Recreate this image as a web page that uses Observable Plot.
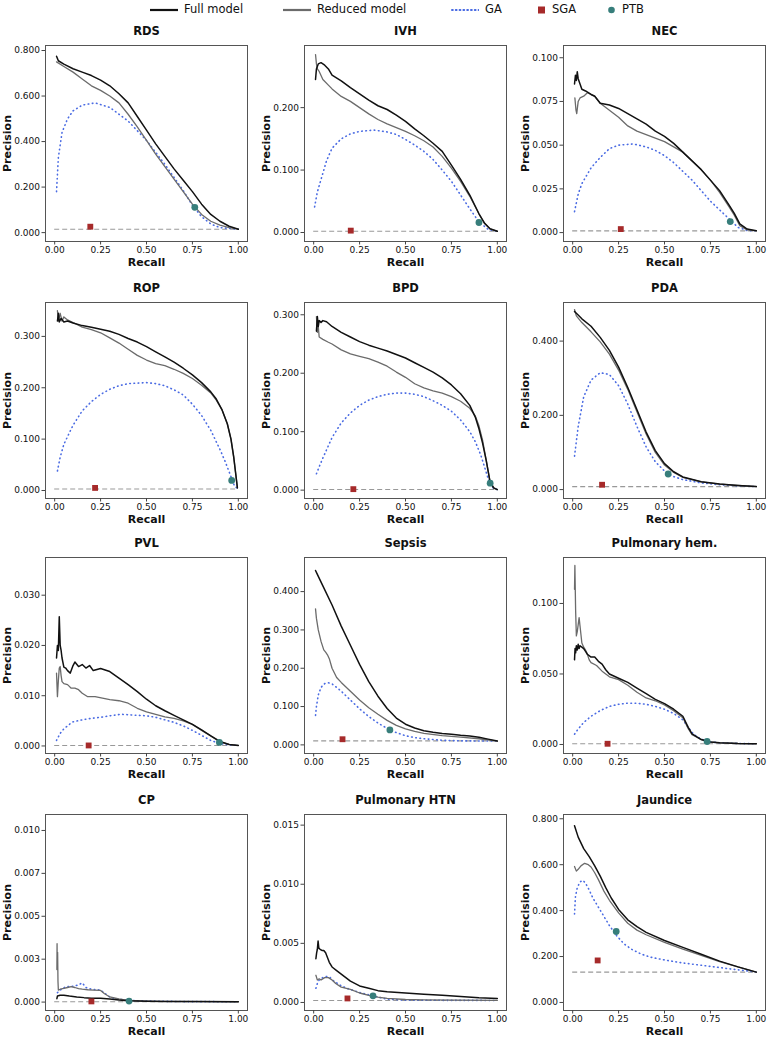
<!DOCTYPE html>
<html><head><meta charset="utf-8">
<script src="https://cdn.jsdelivr.net/npm/d3@7"></script>
<script src="https://cdn.jsdelivr.net/npm/@observablehq/plot@0.6"></script>
<style>
body{margin:0;background:#fff;font-family:"DejaVu Sans",sans-serif;}
#wrap{position:relative;width:767px;height:1038px;overflow:hidden;background:#fff;}
.panel{position:absolute;}
.leg{position:absolute;font-size:11.5px;color:#111;line-height:12px;white-space:nowrap;}
.sw{position:absolute;}
</style></head><body><div id="wrap"></div>
<script>
// ---------- data: [recall, precision] ----------
const titles = ["RDS","IVH","NEC","ROP","BPD","PDA","PVL","Sepsis","Pulmonary hem.","CP","Pulmonary HTN","Jaundice"];
const xTicks = [0, 0.25, 0.5, 0.75, 1];

const RDS_full = [[0.01,0.775],[0.02,0.755],[0.05,0.74],[0.1,0.72],[0.15,0.705],[0.2,0.69],[0.25,0.67],[0.3,0.645],[0.35,0.61],[0.4,0.57],[0.45,0.51],[0.5,0.45],[0.55,0.39],[0.6,0.335],[0.65,0.28],[0.7,0.23],[0.75,0.18],[0.8,0.125],[0.85,0.08],[0.9,0.05],[0.95,0.028],[1.0,0.015]];
const RDS_reduced = [[0.01,0.75],[0.05,0.73],[0.1,0.705],[0.15,0.675],[0.2,0.645],[0.25,0.625],[0.3,0.6],[0.35,0.57],[0.4,0.52],[0.45,0.465],[0.5,0.405],[0.55,0.345],[0.6,0.29],[0.65,0.235],[0.7,0.18],[0.75,0.125],[0.8,0.08],[0.85,0.05],[0.9,0.033],[0.95,0.022],[1.0,0.015]];
const RDS_ga = [[0.01,0.18],[0.02,0.33],[0.04,0.44],[0.07,0.5],[0.1,0.535],[0.15,0.56],[0.22,0.57],[0.3,0.55],[0.4,0.49],[0.5,0.405],[0.6,0.3],[0.7,0.185],[0.75,0.12],[0.8,0.07],[0.85,0.038],[0.9,0.022],[1.0,0.015]];
const RDS_sga = [0.194,0.026], RDS_ptb = [0.763,0.111], RDS_base = 0.015;

const IVH_full = [[0.01,0.245],[0.015,0.262],[0.025,0.27],[0.04,0.272],[0.06,0.268],[0.08,0.262],[0.1,0.252],[0.15,0.243],[0.2,0.232],[0.25,0.222],[0.3,0.212],[0.35,0.203],[0.4,0.197],[0.45,0.188],[0.5,0.178],[0.55,0.166],[0.6,0.155],[0.65,0.143],[0.7,0.13],[0.75,0.108],[0.8,0.085],[0.85,0.06],[0.9,0.03],[0.93,0.015],[0.96,0.006],[1.0,0.002]];
const IVH_reduced = [[0.01,0.285],[0.015,0.27],[0.02,0.262],[0.03,0.258],[0.05,0.245],[0.08,0.236],[0.1,0.23],[0.15,0.218],[0.2,0.21],[0.25,0.2],[0.3,0.19],[0.35,0.181],[0.4,0.174],[0.45,0.168],[0.5,0.162],[0.55,0.155],[0.6,0.147],[0.65,0.137],[0.7,0.122],[0.75,0.103],[0.8,0.082],[0.85,0.058],[0.9,0.03],[0.93,0.015],[0.96,0.006],[1.0,0.002]];
const IVH_ga = [[0.005,0.041],[0.02,0.065],[0.04,0.085],[0.07,0.115],[0.1,0.135],[0.15,0.15],[0.2,0.158],[0.25,0.162],[0.33,0.164],[0.4,0.161],[0.45,0.157],[0.5,0.149],[0.55,0.14],[0.6,0.13],[0.65,0.117],[0.7,0.1],[0.75,0.082],[0.8,0.06],[0.85,0.038],[0.9,0.017],[0.95,0.005],[1.0,0.002]];
const IVH_sga = [0.202,0.003], IVH_ptb = [0.9,0.016], IVH_base = 0.002;

const NEC_full = [[0.01,0.085],[0.015,0.09],[0.02,0.087],[0.025,0.092],[0.03,0.088],[0.04,0.085],[0.05,0.082],[0.07,0.081],[0.1,0.079],[0.12,0.078],[0.15,0.074],[0.2,0.073],[0.25,0.071],[0.3,0.068],[0.35,0.065],[0.4,0.062],[0.45,0.058],[0.5,0.055],[0.55,0.051],[0.6,0.046],[0.65,0.041],[0.7,0.036],[0.75,0.03],[0.8,0.024],[0.85,0.016],[0.88,0.011],[0.91,0.005],[0.95,0.002],[1.0,0.001]];
const NEC_reduced = [[0.012,0.077],[0.018,0.07],[0.022,0.068],[0.03,0.075],[0.04,0.077],[0.06,0.078],[0.08,0.08],[0.1,0.079],[0.12,0.078],[0.15,0.074],[0.2,0.07],[0.25,0.066],[0.3,0.061],[0.35,0.058],[0.4,0.056],[0.45,0.054],[0.5,0.052],[0.55,0.049],[0.6,0.046],[0.65,0.041],[0.7,0.036],[0.75,0.03],[0.8,0.023],[0.85,0.015],[0.88,0.01],[0.91,0.004],[0.95,0.0015],[1.0,0.001]];
const NEC_ga = [[0.01,0.012],[0.03,0.022],[0.05,0.028],[0.1,0.037],[0.15,0.043],[0.2,0.048],[0.25,0.05],[0.33,0.0507],[0.4,0.049],[0.45,0.047],[0.5,0.044],[0.55,0.04],[0.6,0.035],[0.65,0.03],[0.7,0.024],[0.75,0.018],[0.8,0.013],[0.85,0.008],[0.9,0.003],[0.95,0.0012],[1.0,0.001]];
const NEC_sga = [0.262,0.002], NEC_ptb = [0.858,0.0063], NEC_base = 0.001;

const ROP_full = [[0.015,0.33],[0.02,0.345],[0.025,0.328],[0.035,0.335],[0.05,0.328],[0.07,0.33],[0.1,0.326],[0.15,0.321],[0.2,0.318],[0.25,0.314],[0.3,0.31],[0.35,0.304],[0.4,0.296],[0.45,0.289],[0.5,0.28],[0.55,0.27],[0.6,0.26],[0.65,0.25],[0.7,0.238],[0.75,0.225],[0.8,0.21],[0.85,0.192],[0.88,0.178],[0.91,0.158],[0.94,0.13],[0.96,0.1],[0.975,0.065],[0.985,0.035],[0.995,0.005]];
const ROP_reduced = [[0.015,0.35],[0.02,0.33],[0.03,0.345],[0.04,0.33],[0.05,0.338],[0.07,0.332],[0.1,0.327],[0.15,0.318],[0.2,0.313],[0.25,0.307],[0.3,0.297],[0.35,0.287],[0.4,0.275],[0.45,0.263],[0.5,0.254],[0.55,0.247],[0.6,0.243],[0.65,0.236],[0.7,0.228],[0.75,0.218],[0.8,0.205],[0.85,0.19],[0.88,0.176],[0.91,0.158],[0.94,0.13],[0.96,0.1],[0.975,0.065],[0.985,0.035],[0.995,0.005]];
const ROP_ga = [[0.015,0.038],[0.03,0.065],[0.05,0.09],[0.1,0.127],[0.15,0.155],[0.2,0.173],[0.25,0.187],[0.3,0.197],[0.35,0.204],[0.4,0.208],[0.5,0.21],[0.55,0.208],[0.6,0.204],[0.65,0.196],[0.7,0.186],[0.75,0.168],[0.8,0.146],[0.85,0.117],[0.9,0.08],[0.93,0.055],[0.96,0.027],[0.98,0.008],[1.0,0.003]];
const ROP_sga = [0.22,0.005], ROP_ptb = [0.964,0.0195], ROP_base = 0.003;

const BPD_full = [[0.015,0.272],[0.02,0.297],[0.025,0.28],[0.03,0.29],[0.04,0.287],[0.05,0.29],[0.07,0.288],[0.1,0.28],[0.15,0.27],[0.2,0.262],[0.25,0.254],[0.3,0.248],[0.35,0.243],[0.4,0.238],[0.45,0.232],[0.5,0.226],[0.55,0.218],[0.6,0.21],[0.65,0.202],[0.7,0.192],[0.75,0.18],[0.8,0.165],[0.85,0.145],[0.88,0.125],[0.9,0.105],[0.92,0.08],[0.94,0.05],[0.96,0.015],[0.98,0.004],[1.0,0.001]];
const BPD_reduced = [[0.015,0.297],[0.02,0.27],[0.025,0.28],[0.03,0.262],[0.05,0.258],[0.08,0.253],[0.1,0.25],[0.15,0.24],[0.2,0.233],[0.25,0.229],[0.3,0.225],[0.35,0.219],[0.4,0.212],[0.45,0.202],[0.5,0.193],[0.55,0.182],[0.6,0.175],[0.65,0.17],[0.7,0.166],[0.75,0.16],[0.8,0.152],[0.85,0.14],[0.88,0.127],[0.9,0.11],[0.92,0.085],[0.94,0.05],[0.96,0.015],[0.98,0.004],[1.0,0.001]];
const BPD_ga = [[0.015,0.028],[0.03,0.04],[0.05,0.055],[0.1,0.09],[0.15,0.115],[0.2,0.132],[0.25,0.145],[0.3,0.154],[0.35,0.16],[0.4,0.164],[0.45,0.166],[0.5,0.166],[0.55,0.164],[0.6,0.16],[0.65,0.153],[0.7,0.145],[0.75,0.135],[0.8,0.12],[0.85,0.1],[0.88,0.083],[0.91,0.06],[0.94,0.03],[0.96,0.01],[0.98,0.003],[1.0,0.001]];
const BPD_sga = [0.216,0.0017], BPD_ptb = [0.961,0.012], BPD_base = 0.001;

const PDA_full = [[0.01,0.48],[0.02,0.475],[0.05,0.46],[0.1,0.44],[0.15,0.41],[0.2,0.375],[0.25,0.33],[0.3,0.275],[0.35,0.215],[0.4,0.155],[0.45,0.105],[0.5,0.07],[0.55,0.048],[0.6,0.034],[0.7,0.021],[0.8,0.015],[0.9,0.011],[1.0,0.008]];
const PDA_reduced = [[0.01,0.485],[0.02,0.468],[0.05,0.45],[0.1,0.425],[0.15,0.398],[0.2,0.365],[0.25,0.322],[0.3,0.27],[0.35,0.21],[0.4,0.15],[0.45,0.1],[0.5,0.066],[0.55,0.046],[0.6,0.033],[0.7,0.021],[0.8,0.015],[0.9,0.011],[1.0,0.008]];
const PDA_ga = [[0.01,0.09],[0.03,0.17],[0.06,0.25],[0.1,0.295],[0.15,0.315],[0.2,0.31],[0.25,0.28],[0.3,0.23],[0.35,0.17],[0.4,0.115],[0.45,0.075],[0.5,0.05],[0.55,0.035],[0.6,0.027],[0.7,0.018],[0.8,0.013],[0.9,0.01],[1.0,0.008]];
const PDA_sga = [0.16,0.013], PDA_ptb = [0.52,0.042], PDA_base = 0.008;

const PVL_full = [[0.01,0.0175],[0.015,0.02],[0.02,0.019],[0.025,0.0257],[0.03,0.02],[0.035,0.019],[0.04,0.0175],[0.05,0.0157],[0.06,0.0155],[0.07,0.015],[0.085,0.0145],[0.1,0.016],[0.11,0.0167],[0.13,0.0158],[0.15,0.0162],[0.17,0.0155],[0.19,0.016],[0.21,0.015],[0.25,0.0154],[0.3,0.0148],[0.35,0.0135],[0.4,0.0122],[0.45,0.0108],[0.5,0.0093],[0.55,0.008],[0.6,0.007],[0.65,0.0061],[0.7,0.0052],[0.75,0.0043],[0.8,0.0032],[0.85,0.002],[0.9,0.0009],[0.95,0.0003],[1.0,0.0001]];
const PVL_reduced = [[0.01,0.0145],[0.015,0.0098],[0.02,0.013],[0.025,0.0155],[0.03,0.0158],[0.035,0.014],[0.04,0.0128],[0.05,0.0124],[0.07,0.0122],[0.09,0.0115],[0.11,0.0115],[0.13,0.0112],[0.15,0.0105],[0.18,0.0098],[0.22,0.0098],[0.26,0.0095],[0.3,0.0092],[0.35,0.009],[0.4,0.0085],[0.45,0.0075],[0.5,0.0068],[0.55,0.0063],[0.6,0.0058],[0.65,0.0055],[0.7,0.005],[0.75,0.0043],[0.8,0.0031],[0.85,0.002],[0.9,0.0008],[0.95,0.0003],[1.0,0.0001]];
const PVL_ga = [[0.01,0.0011],[0.03,0.0025],[0.05,0.0034],[0.08,0.0043],[0.1,0.0048],[0.15,0.0052],[0.2,0.0055],[0.25,0.0057],[0.3,0.006],[0.36,0.0063],[0.45,0.0061],[0.5,0.006],[0.55,0.0057],[0.6,0.0052],[0.65,0.0047],[0.7,0.004],[0.75,0.0031],[0.8,0.0021],[0.85,0.0011],[0.9,0.0005],[0.95,0.0002],[1.0,0.0001]];
const PVL_sga = [0.185,0.0001], PVL_ptb = [0.897,0.0007], PVL_base = 0.0001;

const SEP_full = [[0.01,0.455],[0.02,0.445],[0.05,0.415],[0.1,0.365],[0.15,0.31],[0.2,0.26],[0.25,0.21],[0.3,0.165],[0.35,0.127],[0.4,0.095],[0.45,0.07],[0.5,0.054],[0.55,0.044],[0.6,0.037],[0.65,0.033],[0.7,0.03],[0.75,0.028],[0.8,0.025],[0.85,0.023],[0.9,0.02],[0.95,0.015],[1.0,0.01]];
const SEP_reduced = [[0.01,0.355],[0.015,0.33],[0.025,0.3],[0.04,0.27],[0.055,0.248],[0.065,0.242],[0.075,0.235],[0.085,0.225],[0.1,0.2],[0.125,0.176],[0.15,0.163],[0.2,0.14],[0.25,0.117],[0.3,0.097],[0.35,0.08],[0.4,0.064],[0.45,0.051],[0.5,0.042],[0.55,0.035],[0.6,0.03],[0.7,0.024],[0.8,0.02],[0.9,0.016],[1.0,0.01]];
const SEP_ga = [[0.01,0.077],[0.015,0.1],[0.025,0.13],[0.04,0.15],[0.06,0.16],[0.08,0.162],[0.1,0.159],[0.125,0.15],[0.15,0.14],[0.2,0.117],[0.25,0.094],[0.3,0.074],[0.35,0.057],[0.4,0.043],[0.45,0.032],[0.5,0.024],[0.55,0.019],[0.6,0.016],[0.7,0.012],[0.8,0.0105],[1.0,0.01]];
const SEP_sga = [0.157,0.0147], SEP_ptb = [0.415,0.039], SEP_base = 0.0104;

const PH_full = [[0.01,0.06],[0.013,0.068],[0.016,0.065],[0.02,0.07],[0.025,0.067],[0.03,0.071],[0.035,0.068],[0.04,0.07],[0.05,0.069],[0.06,0.068],[0.07,0.066],[0.08,0.064],[0.1,0.062],[0.12,0.062],[0.14,0.059],[0.16,0.057],[0.18,0.053],[0.2,0.05],[0.25,0.047],[0.3,0.044],[0.35,0.04],[0.4,0.036],[0.45,0.032],[0.5,0.029],[0.55,0.025],[0.6,0.02],[0.63,0.012],[0.65,0.0075],[0.7,0.0035],[0.75,0.0018],[0.8,0.0012],[0.9,0.0007],[1.0,0.0005]];
const PH_reduced = [[0.01,0.11],[0.012,0.127],[0.016,0.095],[0.02,0.077],[0.025,0.08],[0.03,0.085],[0.035,0.09],[0.04,0.084],[0.045,0.078],[0.05,0.072],[0.06,0.069],[0.07,0.067],[0.08,0.064],[0.09,0.06],[0.1,0.058],[0.13,0.056],[0.16,0.052],[0.2,0.048],[0.25,0.046],[0.3,0.042],[0.35,0.037],[0.4,0.033],[0.45,0.031],[0.5,0.028],[0.55,0.024],[0.6,0.019],[0.63,0.011],[0.65,0.007],[0.7,0.0035],[0.75,0.0018],[0.8,0.0012],[0.9,0.0007],[1.0,0.0005]];
const PH_ga = [[0.01,0.0073],[0.03,0.011],[0.06,0.0156],[0.1,0.02],[0.15,0.024],[0.2,0.027],[0.25,0.0285],[0.3,0.0293],[0.35,0.0292],[0.4,0.0285],[0.45,0.027],[0.5,0.025],[0.55,0.022],[0.6,0.0175],[0.63,0.012],[0.66,0.007],[0.7,0.0038],[0.75,0.0018],[0.8,0.0012],[0.9,0.0007],[1.0,0.0005]];
const PH_sga = [0.19,0.0005], PH_ptb = [0.732,0.0021], PH_base = 0.0005;

const CP_full = [[0.012,0.0002],[0.015,0.00035],[0.03,0.0004],[0.05,0.0004],[0.08,0.00035],[0.12,0.0003],[0.16,0.00026],[0.2,0.00023],[0.25,0.00022],[0.3,0.00018],[0.35,0.00012],[0.4,0.00008],[0.5,0.00005],[0.6,0.00004],[0.8,0.00003],[1.0,0.00002]];
const CP_reduced = [[0.012,0.0019],[0.013,0.0034],[0.014,0.002],[0.016,0.0029],[0.018,0.0012],[0.02,0.0007],[0.03,0.00075],[0.05,0.0008],[0.07,0.00085],[0.09,0.0009],[0.11,0.00085],[0.13,0.00078],[0.15,0.00075],[0.18,0.00072],[0.21,0.0007],[0.25,0.00068],[0.27,0.0005],[0.3,0.0003],[0.35,0.00018],[0.4,0.0001],[0.5,0.00006],[0.6,0.00004],[0.8,0.00003],[1.0,0.00002]];
const CP_ga = [[0.015,0.00055],[0.03,0.0007],[0.06,0.0009],[0.1,0.00092],[0.13,0.001],[0.15,0.00112],[0.17,0.00085],[0.2,0.00075],[0.25,0.0007],[0.28,0.00045],[0.3,0.0003],[0.35,0.00016],[0.4,0.0001],[0.5,0.00006],[0.7,0.00003],[1.0,0.00002]];
const CP_sga = [0.2,0.00004], CP_ptb = [0.405,0.00006], CP_base = 0.00002;

const PHTN_full = [[0.012,0.0037],[0.016,0.0042],[0.02,0.0045],[0.024,0.0052],[0.028,0.0046],[0.035,0.0045],[0.045,0.0044],[0.055,0.0044],[0.065,0.0042],[0.075,0.0038],[0.085,0.0034],[0.1,0.003],[0.125,0.0027],[0.15,0.0024],[0.2,0.0018],[0.25,0.0014],[0.3,0.0012],[0.35,0.001],[0.4,0.0009],[0.5,0.0008],[0.6,0.0007],[0.7,0.0006],[0.8,0.0005],[0.9,0.0004],[1.0,0.00034]];
const PHTN_reduced = [[0.012,0.0023],[0.016,0.0021],[0.02,0.0019],[0.03,0.002],[0.04,0.0019],[0.06,0.0021],[0.08,0.0021],[0.1,0.0019],[0.12,0.0016],[0.15,0.0013],[0.2,0.0011],[0.25,0.0008],[0.3,0.0006],[0.35,0.00045],[0.4,0.00035],[0.5,0.00025],[0.6,0.00022],[0.8,0.00019],[1.0,0.00017]];
const PHTN_ga = [[0.012,0.0012],[0.02,0.0016],[0.03,0.0019],[0.05,0.0021],[0.07,0.0022],[0.09,0.0021],[0.11,0.0018],[0.14,0.0015],[0.18,0.0012],[0.22,0.001],[0.26,0.0008],[0.3,0.00065],[0.35,0.00045],[0.4,0.00028],[0.5,0.0002],[0.7,0.00018],[1.0,0.00017]];
const PHTN_sga = [0.184,0.00034], PHTN_ptb = [0.323,0.00056], PHTN_base = 0.00017;

const JAU_full = [[0.01,0.77],[0.03,0.72],[0.06,0.67],[0.09,0.635],[0.12,0.595],[0.15,0.55],[0.18,0.5],[0.21,0.455],[0.25,0.405],[0.3,0.36],[0.35,0.33],[0.4,0.305],[0.5,0.27],[0.6,0.24],[0.7,0.21],[0.8,0.18],[0.9,0.155],[1.0,0.132]];
const JAU_reduced = [[0.01,0.592],[0.02,0.572],[0.03,0.58],[0.045,0.595],[0.065,0.606],[0.085,0.6],[0.1,0.59],[0.12,0.565],[0.14,0.535],[0.17,0.485],[0.2,0.445],[0.25,0.39],[0.3,0.345],[0.35,0.315],[0.4,0.295],[0.5,0.262],[0.6,0.232],[0.7,0.205],[0.8,0.178],[0.9,0.155],[1.0,0.132]];
const JAU_ga = [[0.01,0.385],[0.015,0.46],[0.025,0.5],[0.04,0.525],[0.055,0.532],[0.07,0.52],[0.09,0.49],[0.11,0.455],[0.14,0.415],[0.17,0.375],[0.2,0.335],[0.24,0.29],[0.28,0.255],[0.32,0.232],[0.37,0.212],[0.42,0.198],[0.5,0.185],[0.6,0.172],[0.7,0.162],[0.8,0.152],[0.9,0.142],[1.0,0.133]];
const JAU_sga = [0.136,0.183], JAU_ptb = [0.237,0.309], JAU_base = 0.132;

// y tick values per panel (labels formatted to 3 decimals)
const yTicks = [
  [0,0.2,0.4,0.6,0.8],[0,0.1,0.2],[0,0.025,0.05,0.075,0.1],
  [0,0.1,0.2,0.3],[0,0.1,0.2,0.3],[0,0.2,0.4],
  [0,0.01,0.02,0.03],[0,0.1,0.2,0.3,0.4],[0,0.05,0.1],
  [0,0.0025,0.005,0.0075,0.01],[0,0.005,0.01,0.015],[0,0.2,0.4,0.6,0.8]
];
const yDomains = [
  [-0.039,0.822],[-0.0144,0.2995],[-0.0051,0.107],
  [-0.0156,0.366],[-0.0143,0.321],[-0.024,0.504],
  [-0.0015,0.0375],[-0.0225,0.489],[-0.0064,0.1326],
  [-0.00049,0.01093],[-0.00068,0.0159],[-0.035,0.8186]
];

const series = [
  [RDS_full,RDS_reduced,RDS_ga,RDS_sga,RDS_ptb,RDS_base],
  [IVH_full,IVH_reduced,IVH_ga,IVH_sga,IVH_ptb,IVH_base],
  [NEC_full,NEC_reduced,NEC_ga,NEC_sga,NEC_ptb,NEC_base],
  [ROP_full,ROP_reduced,ROP_ga,ROP_sga,ROP_ptb,ROP_base],
  [BPD_full,BPD_reduced,BPD_ga,BPD_sga,BPD_ptb,BPD_base],
  [PDA_full,PDA_reduced,PDA_ga,PDA_sga,PDA_ptb,PDA_base],
  [PVL_full,PVL_reduced,PVL_ga,PVL_sga,PVL_ptb,PVL_base],
  [SEP_full,SEP_reduced,SEP_ga,SEP_sga,SEP_ptb,SEP_base],
  [PH_full,PH_reduced,PH_ga,PH_sga,PH_ptb,PH_base],
  [CP_full,CP_reduced,CP_ga,CP_sga,CP_ptb,CP_base],
  [PHTN_full,PHTN_reduced,PHTN_ga,PHTN_sga,PHTN_ptb,PHTN_base],
  [JAU_full,JAU_reduced,JAU_ga,JAU_sga,JAU_ptb,JAU_base]
];

// ---------- layout ----------
const C_FULL = "#111111", C_RED = "#6b6b6b", C_GA = "#4a6be3", C_SGA = "#a62a2a", C_PTB = "#377e7b";
const frameLeft = [45, 304, 563], frameTop = [45, 302, 557, 814];
const FW = 202, FH = 196, ML = 44, MR = 2, MT = 30, MB = 27;
const wrap = document.getElementById("wrap");
const X = d => d[0], Y = d => d[1];

titles.forEach((title, i) => {
  const [full, reduced, ga, sga, ptb, base] = series[i];
  const col = i % 3, row = Math.floor(i / 3);
  const fig = Plot.plot({
    width: ML + FW + MR, height: MT + FH + MB,
    marginLeft: ML, marginRight: MR, marginTop: MT, marginBottom: MB,
    style: {fontFamily: "DejaVu Sans", fontSize: "9px", color: "#222", background: "transparent", overflow: "visible"},
    x: {domain: [-0.05, 1.05]},
    y: {domain: yDomains[i]},
    marks: [
      Plot.ruleY([base], {x1: 0, x2: 1, stroke: "#999", strokeWidth: 1.1, strokeDasharray: "5,3"}),
      Plot.line(ga, {x: X, y: Y, stroke: C_GA, strokeWidth: 1.6, strokeDasharray: "0.6,3.6", strokeLinecap: "round"}),
      Plot.line(reduced, {x: X, y: Y, stroke: C_RED, strokeWidth: 1.3}),
      Plot.line(full, {x: X, y: Y, stroke: C_FULL, strokeWidth: 1.5}),
      Plot.dot([sga], {x: X, y: Y, symbol: "square", r: 3.3, fill: C_SGA}),
      Plot.dot([ptb], {x: X, y: Y, r: 3.4, fill: C_PTB}),
      Plot.frame({stroke: "#555", strokeWidth: 1}),
      Plot.axisX({ticks: xTicks, tickFormat: ".2f", tickSize: 3.5, tickPadding: 2, label: null, stroke: "#444", fill: "#111"}),
      Plot.axisY({ticks: yTicks[i], tickFormat: ".3f", tickSize: 3.5, tickPadding: 2, label: null, stroke: "#444", fill: "#111"}),
      Plot.text([title], {text: d => d, frameAnchor: "top", lineAnchor: "middle", dy: -14, fontSize: 11.5, fontWeight: "bold", fill: "#111"}),
      Plot.text(["Recall"], {text: d => d, frameAnchor: "bottom", lineAnchor: "middle", dy: 21, fontSize: 11, fontWeight: "bold", fill: "#111"}),
      Plot.text(["Precision"], {text: d => d, frameAnchor: "left", textAnchor: "middle", lineAnchor: "middle", dx: -38, rotate: -90, fontSize: 11, fontWeight: "bold", fill: "#111"})
    ]
  });
  fig.classList.add("panel");
  fig.style.left = (frameLeft[col] - ML) + "px";
  fig.style.top = (frameTop[row] - MT) + "px";
  wrap.appendChild(fig);
});

// ---------- legend ----------
const legendItems = [
  {label: "Full model", kind: "line", color: C_FULL, x: 150},
  {label: "Reduced model", kind: "line", color: C_RED, x: 283},
  {label: "GA", kind: "dots", color: C_GA, x: 451},
  {label: "SGA", kind: "square", color: C_SGA, x: 537},
  {label: "PTB", kind: "circle", color: C_PTB, x: 607}
];
const LY = 10;
legendItems.forEach(it => {
  const s = document.createElementNS("http://www.w3.org/2000/svg", "svg");
  s.setAttribute("class", "sw");
  const w = (it.kind === "line" || it.kind === "dots") ? 28 : 9;
  s.setAttribute("width", w); s.setAttribute("height", 10);
  s.style.left = it.x + "px"; s.style.top = (LY - 5) + "px";
  let inner = "";
  if (it.kind === "line") inner = `<line x1="0" y1="5" x2="${w}" y2="5" stroke="${it.color}" stroke-width="2.2"/>`;
  else if (it.kind === "dots") inner = `<line x1="1" y1="5" x2="${w}" y2="5" stroke="${it.color}" stroke-width="2" stroke-dasharray="0.8,3" stroke-linecap="round"/>`;
  else if (it.kind === "square") inner = `<rect x="1" y="1.5" width="7" height="7" fill="${it.color}"/>`;
  else inner = `<circle cx="4.5" cy="5" r="3.3" fill="${it.color}"/>`;
  s.innerHTML = inner;
  wrap.appendChild(s);
  const t = document.createElement("div");
  t.className = "leg";
  t.textContent = it.label;
  t.style.left = (it.x + w + 6) + "px";
  t.style.top = (LY - 7) + "px";
  wrap.appendChild(t);
});
</script></body></html>
